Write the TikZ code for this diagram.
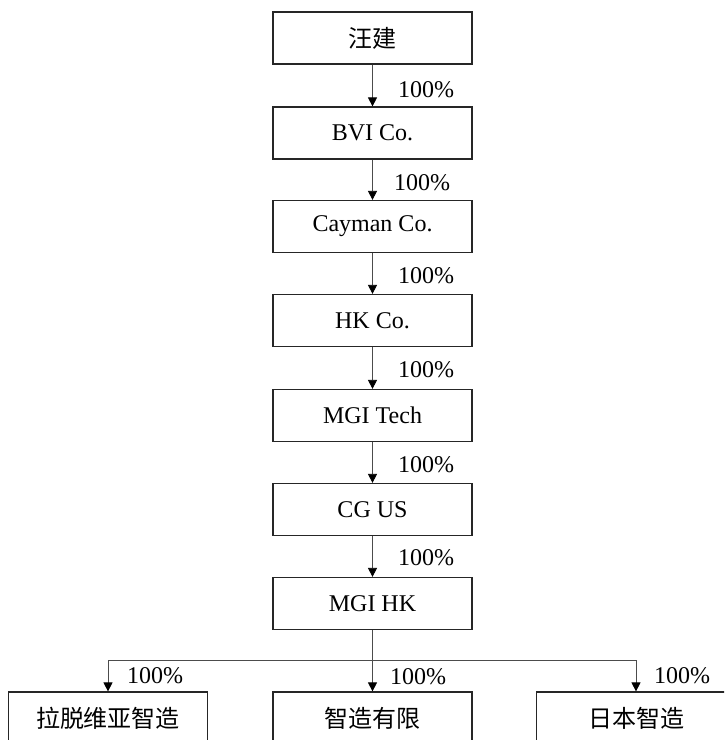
\documentclass[tikz,border=0pt]{standalone}
\usepackage{fontspec}
\setmainfont{Liberation Serif}
\newfontfamily\cjk{Noto Sans CJK SC}
\usetikzlibrary{arrows.meta}
\begin{document}
\begin{tikzpicture}[x=1pt,y=-1pt,
  box/.style={draw=black!85, line width=1.2pt, minimum width=199pt, minimum height=52pt, inner sep=0pt, font=\fontsize{24}{27}\selectfont},
  link/.style={draw=black!70, line width=0.8pt, -{Triangle[length=9pt,width=9pt,color=black]}},
  bar/.style={draw=black!70, line width=0.8pt},
  pct/.style={anchor=west, inner sep=0pt, font=\fontsize{24}{27}\selectfont}]
\useasboundingbox (0,0) rectangle (724,740);
\clip (0,0) rectangle (724,740);
\node[box] (a) at (372.5,38) {\cjk 汪建};
\node[box] (b) at (372.5,133) {BVI Co.};
\node[box] (c) at (372.5,226.5) {Cayman Co.};
\node[box] (d) at (372.5,320.5) {HK Co.};
\node[box] (e) at (372.5,415.5) {MGI Tech};
\node[box] (f) at (372.5,509.5) {CG US};
\node[box] (g) at (372.5,603.5) {MGI HK};
\node[box] (h1) at (108,718) {\cjk 拉脱维亚智造};
\node[box] (h2) at (372.5,718) {\cjk 智造有限};
\node[box] (h3) at (636,718) {\cjk 日本智造};
\draw[link] (a) -- (b);
\draw[link] (b) -- (c);
\draw[link] (c) -- (d);
\draw[link] (d) -- (e);
\draw[link] (e) -- (f);
\draw[link] (f) -- (g);
\coordinate (bl) at (108,660);
\coordinate (br) at (636,660);
\draw[bar] (bl) -- (br);
\draw[link] (g) -- (h2);
\draw[link] (bl) -- (h1);
\draw[link] (br) -- (h3);
\node[pct] (p1) at (398,89.5) {100\%};
\node[pct] (p2) at (394,183) {100\%};
\node[pct] (p3) at (398,276) {100\%};
\node[pct] (p4) at (398,370) {100\%};
\node[pct] (p5) at (398,465) {100\%};
\node[pct] (p6) at (398,558) {100\%};
\node[pct] (q1) at (127,676) {100\%};
\node[pct] (q2) at (390,677) {100\%};
\node[pct] (q3) at (654,676) {100\%};
\end{tikzpicture}
\end{document}
